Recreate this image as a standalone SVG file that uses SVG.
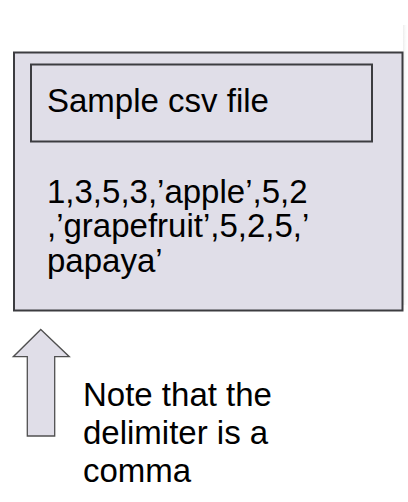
<svg xmlns="http://www.w3.org/2000/svg" width="408" height="502" viewBox="0 0 408 502">
<style>
.box{fill:#e0dee8;stroke:#3c3c40;stroke-width:2}
.t{font-family:"Liberation Sans",Arial,sans-serif;font-size:33px;fill:#000}
.arrow{fill:#e0dee8;stroke:#505050;stroke-width:1.3}
</style>
<defs>
<linearGradient id="sh" x1="0" y1="0" x2="1" y2="0">
<stop offset="0" stop-color="#d8d8d8" stop-opacity="0.5"/>
<stop offset="1" stop-color="#ffffff" stop-opacity="0"/>
</linearGradient>
</defs>
<rect width="408" height="502" fill="#ffffff"/>
<rect x="403" y="25" width="5" height="280" fill="url(#sh)"/>
<g id="csv-file">
<rect class="box" x="14" y="52.5" width="388.5" height="258"/>
<g id="title">
<rect class="box" x="31" y="64.5" width="341" height="77"/>
<text class="t" x="47" y="111.5">Sample csv file</text>
</g>
<text class="t" x="47" y="202.5">1,3,5,3,’apple’,5,2</text>
<text class="t" x="47" y="237">,’grapefruit’,5,2,5,’</text>
<text class="t" x="47" y="271.5">papaya’</text>
</g>
<g id="connectors">
<polygon class="arrow" points="40.8,329.5 69.3,356.7 54.7,356.7 54.7,436 27.3,436 27.3,356.7 13.3,356.7"/>
</g>
<g id="note">
<text class="t" x="83" y="406">Note that the</text>
<text class="t" x="83" y="443.5">delimiter is a</text>
<text class="t" x="83" y="481.5">comma</text>
</g>
</svg>
